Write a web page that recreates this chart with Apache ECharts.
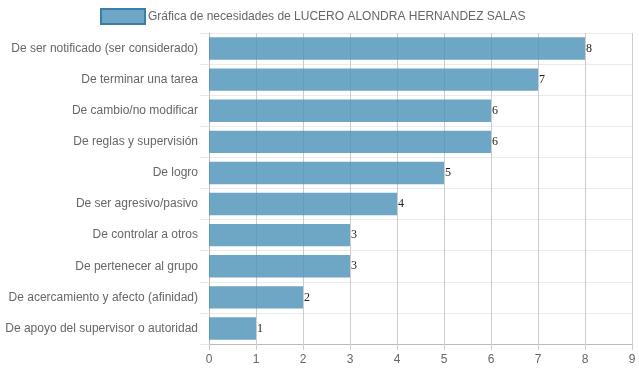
<!DOCTYPE html>
<html><head><meta charset="utf-8">
<script src="https://cdn.jsdelivr.net/npm/echarts@6/dist/echarts.min.js"></script>
<style>html,body{margin:0;padding:0;background:#fff}#c{width:639px;height:372px}</style>
</head><body><div id="c"></div>
<script>
const categories = [
  "De ser notificado (ser considerado)",
  "De terminar una tarea",
  "De cambio/no modificar",
  "De reglas y supervisión",
  "De logro",
  "De ser agresivo/pasivo",
  "De controlar a otros",
  "De pertenecer al grupo",
  "De acercamiento y afecto (afinidad)",
  "De apoyo del supervisor o autoridad"
];
const values = [8, 7, 6, 6, 5, 4, 3, 3, 2, 1];
const seriesName = "Gráfica de necesidades de LUCERO ALONDRA HERNANDEZ SALAS";

const chart = echarts.init(document.getElementById('c'), null, {renderer: 'canvas'});
chart.setOption({
  animation: false,
  legend: {
    top: 8,
    left: 100,
    padding: 0,
    itemWidth: 44,
    itemHeight: 15,
    icon: 'rect',
    itemStyle: {borderColor: '#3c7fa6', borderWidth: 2},
    textStyle: {color: '#666', fontSize: 12, fontFamily: 'Liberation Sans, Arial, sans-serif', padding: [0, 0, 0, -2]},
    data: [seriesName]
  },
  grid: {left: 209, right: 7, top: 33, bottom: 28, containLabel: false},
  xAxis: {
    type: 'value', min: 0, max: 9, interval: 1,
    axisLine: {show: true, lineStyle: {color: '#bbb'}},
    axisTick: {show: true, length: 6, lineStyle: {color: '#ccc'}},
    axisLabel: {color: '#666', fontSize: 12, margin: 10, fontFamily: 'Liberation Sans, Arial, sans-serif'},
    splitLine: {show: true, lineStyle: {color: '#ccc', width: 1}}
  },
  yAxis: {
    type: 'category', data: categories, inverse: true,
    axisLine: {show: true, lineStyle: {color: '#bbb'}},
    axisTick: {show: true, length: 9, lineStyle: {color: '#e8e8e8'}},
    axisLabel: {color: '#666', fontSize: 12, margin: 11, fontFamily: 'Liberation Sans, Arial, sans-serif'},
    splitLine: {show: true, lineStyle: {color: '#ebebeb', width: 1}}
  },
  series: [{
    name: seriesName,
    type: 'bar',
    data: values,
    barCategoryGap: '28%',
    itemStyle: {color: 'rgba(74,144,184,0.8)'},
    label: {
      show: true, position: 'right', distance: 1,
      color: '#222', fontSize: 12, fontFamily: 'Liberation Serif, Times New Roman, serif'
    }
  }]
});
</script>
</body></html>
